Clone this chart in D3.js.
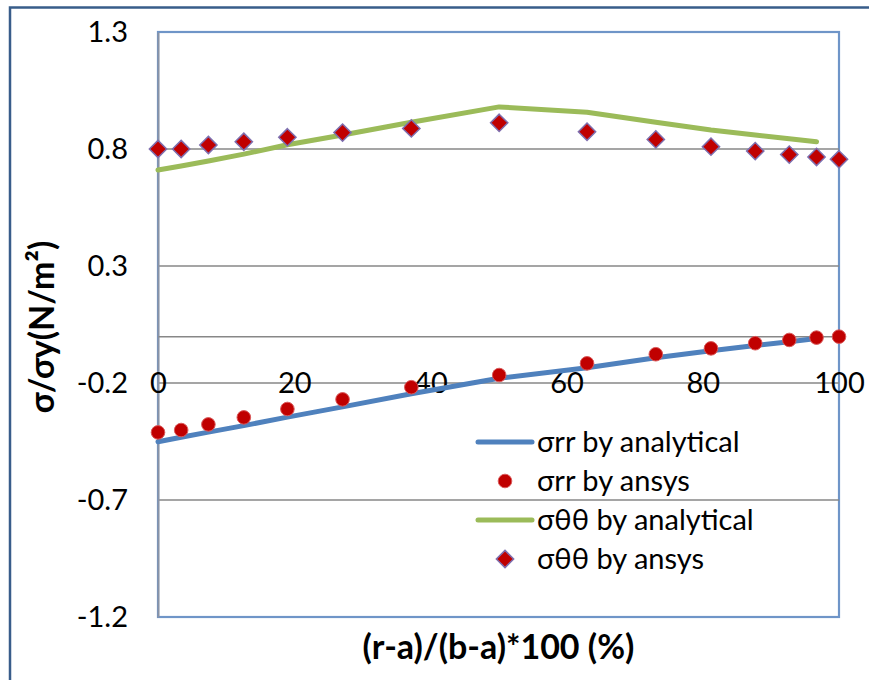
<!DOCTYPE html>
<html>
<head>
<meta charset="utf-8">
<script src="https://cdn.jsdelivr.net/npm/d3@7"></script>
<style>
  body { margin: 0; background: #fff; }
  text { font-family: Lato, "Noto Sans", sans-serif; fill: #000; }
</style>
</head>
<body>
<div id="chart"></div>
<script>
// stress distribution chart - analytical vs ansys

// radial position (%) of the mesh nodes
const xPos = [0, 3.4, 7.4, 12.6, 19.0, 27.1, 37.2, 50.1, 63.0, 73.1, 81.2, 87.7, 92.7, 96.7, 100];
const srrAnsys = [-0.411, -0.401, -0.377, -0.347, -0.311, -0.270, -0.218, -0.166, -0.116, -0.077, -0.052, -0.030, -0.016, -0.006, -0.002];
const sttAnsys = [0.800, 0.800, 0.817, 0.831, 0.850, 0.870, 0.888, 0.912, 0.874, 0.841, 0.810, 0.791, 0.776, 0.766, 0.756];

// analytical curves stop at the second-last node
const xAnal = [0, 3.4, 7.4, 12.6, 19.0, 27.1, 37.2, 50.1, 63.0, 73.1, 81.2, 87.7, 92.7, 96.7];
const srrAnal = [-0.451, -0.432, -0.410, -0.382, -0.346, -0.302, -0.246, -0.180, -0.135, -0.092, -0.062, -0.040, -0.024, -0.010];
const sttAnal = [0.710, 0.727, 0.749, 0.778, 0.818, 0.860, 0.914, 0.980, 0.957, 0.914, 0.881, 0.860, 0.844, 0.831];

const yTicks = [-1.2, -0.7, -0.2, 0.3, 0.8, 1.3];
const xTicks = [0, 20, 40, 60, 80, 100];

const legendItems = [
    { label: "σrr by analytical", kind: "line", color: "#4F81BD" },
    { label: "σrr by ansys", kind: "circle" },
    { label: "σθθ by analytical", kind: "line", color: "#9BBB59" },
    { label: "σθθ by ansys", kind: "diamond" }
];

const W = 869, H = 680;
const margin = { top: 32, right: 30, bottom: 63, left: 158 };

const svg = d3.select("#chart").append("svg")
    .attr("width", W)
    .attr("height", H);

// outer chart border (runs off the right and bottom edges)
svg.append("rect")
    .attr("x", 10).attr("y", 7.5)
    .attr("width", W).attr("height", H)
    .attr("fill", "none")
    .attr("stroke", "#385D8A")
    .attr("stroke-width", 2.5);

const x = d3.scaleLinear().domain([0, 100]).range([margin.left, W - margin.right]);
const y = d3.scaleLinear().domain([-1.2, 1.3]).range([H - margin.bottom, margin.top]);

// plot area border
svg.append("rect")
    .attr("x", x(0)).attr("y", y(1.3))
    .attr("width", x(100) - x(0)).attr("height", y(-1.2) - y(1.3))
    .attr("fill", "none")
    .attr("stroke", "#6F95C8")
    .attr("stroke-width", 2.2);

// horizontal gridlines
svg.append("g")
    .selectAll("line")
    .data(yTicks.slice(1, -1))
    .join("line")
    .attr("x1", x(0)).attr("x2", x(100))
    .attr("y1", d => y(d)).attr("y2", d => y(d))
    .attr("stroke", "#878787")
    .attr("stroke-width", 1.4);

// y axis (left) - line plus labels
const yAxis = svg.append("g")
    .attr("transform", `translate(${x(0)},0)`)
    .call(d3.axisLeft(y).tickValues(yTicks).tickSize(0).tickPadding(30).tickFormat(d => d.toFixed(1)));
yAxis.select(".domain").attr("stroke", "#8A93A5").attr("stroke-width", 2);
yAxis.selectAll("text")
    .attr("font-size", "29px")
    .attr("font-family", "Lato, sans-serif")
    .attr("fill", "#000");

// x axis crosses at y = 0, labels sit a bit lower
const xAxis = svg.append("g")
    .attr("transform", `translate(0,${y(0)})`)
    .call(d3.axisBottom(x).tickValues(xTicks).tickSize(0).tickPadding(36));
xAxis.select(".domain").attr("stroke", "#878787").attr("stroke-width", 1.4);
xAxis.selectAll("text")
    .attr("font-size", "29px")
    .attr("font-family", "Lato, sans-serif")
    .attr("fill", "#000");

// analytical lines
const line = d3.line().x(d => x(d[0])).y(d => y(d[1]));

svg.append("path")
    .datum(d3.zip(xAnal, srrAnal))
    .attr("d", line)
    .attr("fill", "none")
    .attr("stroke", "#4F81BD")
    .attr("stroke-width", 5)
    .attr("stroke-linecap", "round")
    .attr("stroke-linejoin", "round");

svg.append("path")
    .datum(d3.zip(xAnal, sttAnal))
    .attr("d", line)
    .attr("fill", "none")
    .attr("stroke", "#9BBB59")
    .attr("stroke-width", 5)
    .attr("stroke-linecap", "round")
    .attr("stroke-linejoin", "round");

// ansys markers
const diamond = d3.symbol().type(d3.symbolDiamond2).size(190);

svg.append("g")
    .selectAll("circle")
    .data(d3.zip(xPos, srrAnsys))
    .join("circle")
    .attr("cx", d => x(d[0]))
    .attr("cy", d => y(d[1]))
    .attr("r", 6.8)
    .attr("fill", "#C00000")
    .attr("stroke", "#D9595A")
    .attr("stroke-width", 1);

svg.append("g")
    .selectAll("path")
    .data(d3.zip(xPos, sttAnsys))
    .join("path")
    .attr("transform", d => `translate(${x(d[0])},${y(d[1])})`)
    .attr("d", diamond)
    .attr("fill", "#C00000")
    .attr("stroke", "#7E6FAF")
    .attr("stroke-width", 1.5);

// legend
const legend = svg.append("g").attr("transform", "translate(478,442)");
const rows = legend.selectAll("g")
    .data(legendItems)
    .join("g")
    .attr("transform", (d, i) => `translate(0,${i * 39})`);

rows.filter(d => d.kind === "line").append("line")
    .attr("x1", 0).attr("x2", 54)
    .attr("stroke", d => d.color)
    .attr("stroke-width", 5)
    .attr("stroke-linecap", "round");

rows.filter(d => d.kind === "circle").append("circle")
    .attr("cx", 27).attr("r", 6.8)
    .attr("fill", "#C00000")
    .attr("stroke", "#D9595A");

rows.filter(d => d.kind === "diamond").append("path")
    .attr("transform", "translate(27,0)")
    .attr("d", diamond)
    .attr("fill", "#C00000")
    .attr("stroke", "#7E6FAF")
    .attr("stroke-width", 1.5);

rows.append("text")
    .attr("x", 59)
    .attr("dy", "0.35em")
    .attr("font-size", "29px")
    .text(d => d.label);

// axis titles
svg.append("text")
    .attr("x", (x(0) + x(100)) / 2)
    .attr("y", 647)
    .attr("dy", "0.35em")
    .attr("text-anchor", "middle")
    .attr("font-size", "34px")
    .attr("font-weight", "bold")
    .text("(r-a)/(b-a)*100 (%)");

svg.append("text")
    .attr("transform", "translate(42,327) rotate(-90)")
    .attr("dy", "0.35em")
    .attr("text-anchor", "middle")
    .attr("font-size", "34px")
    .attr("font-weight", "bold")
    .text("σ/σy(N/m²)");
</script>
</body>
</html>
